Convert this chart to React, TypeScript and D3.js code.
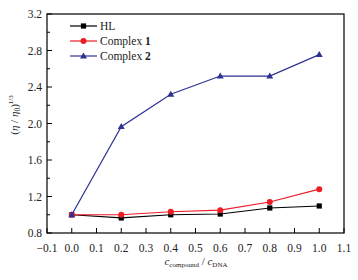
import React from "react";
import * as d3 from "d3";

const xValues = [0.0, 0.2, 0.4, 0.6, 0.8, 1.0];
const hlValues = [1.0, 0.965, 1.0, 1.008, 1.074, 1.096];
const complex1Values = [1.0, 1.0, 1.033, 1.05, 1.14, 1.28];
const complex2Values = [1.0, 1.965, 2.32, 2.52, 2.52, 2.755];
const xTicks = [-0.1, 0.0, 0.1, 0.2, 0.3, 0.4, 0.5, 0.6, 0.7, 0.8, 0.9, 1.0, 1.1];
const yTicks = [0.8, 1.2, 1.6, 2.0, 2.4, 2.8, 3.2];
const yMinorTicks = [1.0, 1.4, 1.8, 2.2, 2.6, 3.0];

const W = 358, H = 280;
const L = 47, R = 344, T = 14, B = 233;
const font = "'Liberation Serif', 'Times New Roman', serif";

export default function App() {
  const x = d3.scaleLinear().domain([-0.1, 1.1]).range([L, R]);
  const y = d3.scaleLinear().domain([0.8, 3.2]).range([B, T]);
  const line = d3.line<[number, number]>().x(d => x(d[0])).y(d => y(d[1]));
  const series = [
    { name: "HL", bold: "", vals: hlValues, color: "#000000", marker: "square" },
    { name: "Complex ", bold: "1", vals: complex1Values, color: "#ee1c24", marker: "circle" },
    { name: "Complex ", bold: "2", vals: complex2Values, color: "#2e3192", marker: "triangle" },
  ];
  const marker = (m: string, cx: number, cy: number, c: string, k: string) => {
    if (m === "square") return <rect key={k} x={cx - 2.6} y={cy - 2.6} width={5.2} height={5.2} fill={c} />;
    if (m === "circle") return <circle key={k} cx={cx} cy={cy} r={3} fill={c} />;
    return <path key={k} d={`M${cx},${cy - 3.6}L${cx + 3.5},${cy + 2.4}L${cx - 3.5},${cy + 2.4}Z`} fill={c} />;
  };
  return (
    <svg width={W} height={H} style={{ position: "absolute", left: 0, top: 0 }}>
      <rect x={0} y={0} width={W} height={H} fill="#fff" />
      {series.map((s, i) => (
        <g key={i}>
          <path d={line(xValues.map((v, j) => [v, s.vals[j]]) as [number, number][]) || ""} fill="none" stroke={s.color} strokeWidth={1.2} />
          {xValues.map((v, j) => marker(s.marker, x(v), y(s.vals[j]), s.color, `m${j}`))}
        </g>
      ))}
      <rect x={L} y={T} width={R - L} height={B - T} fill="none" stroke="#000" strokeWidth={1.2} />
      {xTicks.map((t, i) => (
        <g key={i}>
          <line x1={x(t)} x2={x(t)} y1={B} y2={B - 5} stroke="#000" strokeWidth={1} />
          <text x={x(t)} y={252} textAnchor="middle" fontFamily={font} fontSize={11.5} fill="#222">
            {t < 0 ? "\u2212" + Math.abs(t).toFixed(1) : t.toFixed(1)}
          </text>
        </g>
      ))}
      {yTicks.map((t, i) => (
        <g key={i}>
          <line x1={L} x2={L + 5} y1={y(t)} y2={y(t)} stroke="#000" strokeWidth={1} />
          <text x={42} y={y(t) + 4} textAnchor="end" fontFamily={font} fontSize={11.5} fill="#222">
            {t.toFixed(1)}
          </text>
        </g>
      ))}
      {yMinorTicks.map((t, i) => (
        <line key={i} x1={L} x2={L + 3} y1={y(t)} y2={y(t)} stroke="#000" strokeWidth={1} />
      ))}
      <text transform="translate(18,115) rotate(-90)" textAnchor="middle" fontFamily={font} fontSize={11} fill="#222">
        (<tspan fontStyle="italic">η</tspan> / <tspan fontStyle="italic">η</tspan>
        <tspan fontSize={7.5} dy={2}>0</tspan>
        <tspan dy={-2}>)</tspan>
        <tspan fontSize={7} dy={-5}>1/3</tspan>
      </text>
      <text x={196} y={265} textAnchor="middle" fontFamily={font} fontSize={11} fill="#222">
        <tspan fontStyle="italic">c</tspan>
        <tspan fontSize={7} dy={2}>compound</tspan>
        <tspan dy={-2}> / </tspan>
        <tspan fontStyle="italic">c</tspan>
        <tspan fontSize={7} dy={2}>DNA</tspan>
      </text>
      {series.map((s, i) => {
        const ly = 26 + i * 15;
        return (
          <g key={i}>
            <line x1={70} x2={97} y1={ly} y2={ly} stroke={s.color} strokeWidth={1.2} />
            {marker(s.marker, 83.5, ly, s.color, "lm")}
            <text x={100} y={ly + 4} fontFamily={font} fontSize={11.5} fill="#222">
              {s.name}
              {s.bold && <tspan fontWeight="bold">{s.bold}</tspan>}
            </text>
          </g>
        );
      })}
    </svg>
  );
}
